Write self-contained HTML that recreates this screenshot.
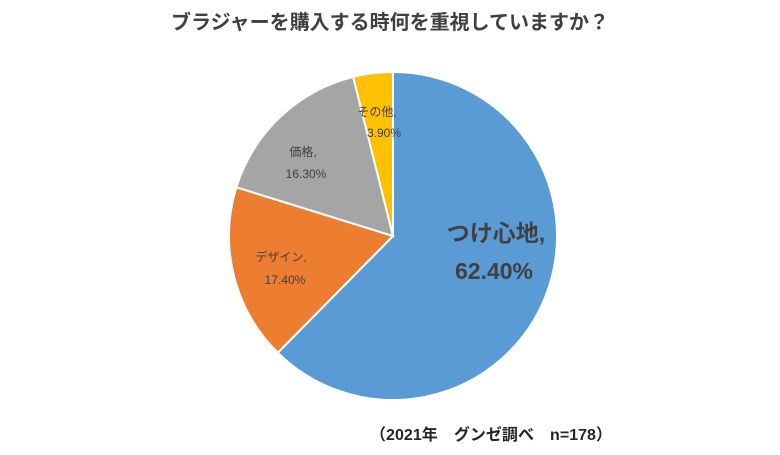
<!DOCTYPE html>
<html><head><meta charset="utf-8"><style>
body{margin:0;background:#fff;}
svg text{font-family:"Liberation Sans","Noto Sans CJK JP",sans-serif;}
</style></head><body>
<svg width="780" height="450" xmlns="http://www.w3.org/2000/svg">
<rect width="780" height="450" fill="#fff"/>
<text x="390" y="29" text-anchor="middle" font-size="20" font-weight="bold" fill="#404040">ブラジャーを購入する時何を重視していますか？</text>
<g stroke="#fff" stroke-width="2">
<path d="M393,236 L393,72 A164,164 0 1 1 277.8,352.7 Z" fill="#5b9bd5"/>
<path d="M393,236 L277.8,352.7 A164,164 0 0 1 236.4,187.3 Z" fill="#ed7d31"/>
<path d="M393,236 L236.4,187.3 A164,164 0 0 1 353.2,76.9 Z" fill="#a5a5a5"/>
<path d="M393,236 L353.2,76.9 A164,164 0 0 1 393,72 Z" fill="#ffc000"/>
</g>
<g font-size="12" fill="#404040" text-anchor="middle">
<text x="377" y="116">その他,</text>
<text x="384" y="137">3.90%</text>
<text x="303" y="156">価格,</text>
<text x="306" y="178">16.30%</text>
<text x="281" y="261">デザイン,</text>
<text x="285" y="284">17.40%</text>
</g>
<g font-size="23" font-weight="bold" fill="#404040" text-anchor="middle">
<text x="496" y="241">つけ心地,</text>
<text x="494" y="279">62.40%</text>
</g>
<text x="370" y="440" font-size="16" font-weight="bold" fill="#262626" textLength="242" lengthAdjust="spacing">（2021年　グンゼ調べ　n=178）</text>
</svg>
</body></html>
